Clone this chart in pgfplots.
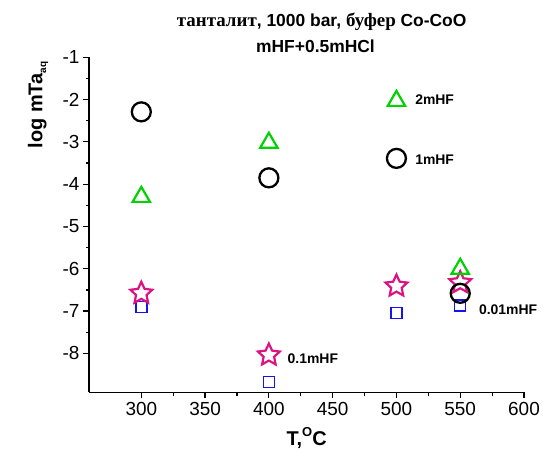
\documentclass[border=0pt]{standalone}
\usepackage{fontspec}
\setmainfont{Liberation Sans}
\newfontfamily\serifcyr{Liberation Serif}
\usepackage{pgfplots}
\pgfplotsset{compat=1.18}
\definecolor{mgreen}{RGB}{0,210,0}
\definecolor{mmag}{RGB}{220,20,130}
\definecolor{mblue}{RGB}{20,20,240}
\pgfdeclareplotmark{ostar}{%
 \pgfpathmoveto{\pgfpointpolar{90}{\pgfplotmarksize}}%
 \pgfpathlineto{\pgfpointpolar{126}{0.48\pgfplotmarksize}}%
 \pgfpathlineto{\pgfpointpolar{162}{\pgfplotmarksize}}%
 \pgfpathlineto{\pgfpointpolar{198}{0.48\pgfplotmarksize}}%
 \pgfpathlineto{\pgfpointpolar{234}{\pgfplotmarksize}}%
 \pgfpathlineto{\pgfpointpolar{270}{0.48\pgfplotmarksize}}%
 \pgfpathlineto{\pgfpointpolar{306}{\pgfplotmarksize}}%
 \pgfpathlineto{\pgfpointpolar{342}{0.48\pgfplotmarksize}}%
 \pgfpathlineto{\pgfpointpolar{18}{\pgfplotmarksize}}%
 \pgfpathlineto{\pgfpointpolar{54}{0.48\pgfplotmarksize}}%
 \pgfpathclose
 \pgfusepathqfillstroke}
\begin{document}
\begin{tikzpicture}[x=1bp,y=1bp]
\path[use as bounding box] (-89,-58.7) rectangle (455,392.3);
\begin{axis}[at={(0,0)}, anchor=south west, scale only axis, width=435bp, height=335bp,
 xmin=259, xmax=600, ymin=-8.92, ymax=-1,
 axis x line*=bottom, axis y line*=left, axis line style={line width=1.4bp,-},
 xtick={300,350,...,600}, ytick={-8,-7,...,-1}, minor x tick num=1, minor y tick num=1,
 tick align=outside, major tick length=6bp, minor tick length=3.5bp,
 tick style={line width=1.2bp,black},
 ticklabel style={font=\fontsize{19}{19}\selectfont},
 /pgf/number format/assume math mode=true,
 clip=false]
\addplot[only marks, mark=square, mark size=5.5bp, mblue, line width=1.4bp]
 coordinates {(300,-6.91) (400,-8.67) (500,-7.05) (550,-6.87)};
\addplot[only marks, mark=ostar, mark size=11.5bp, mmag, line width=2.2bp, mark options={fill=white, line join=miter}]
 coordinates {(300,-6.58) (400,-8.04) (500,-6.41) (550,-6.33)};
\addplot[only marks, mark=triangle, mark size=10bp, mgreen, line width=2.2bp]
 coordinates {(300,-4.30) (400,-3.02) (500,-2.03) (550,-6.00)};
\addplot[only marks, mark=o, mark size=9.5bp, black, line width=2.3bp, mark options={fill=white}]
 coordinates {(300,-2.29) (400,-3.85) (500,-3.39) (550,-6.58)};
\node[anchor=west, font=\fontsize{14}{14}\selectfont\bfseries] at (axis cs:512,-2.01) {2mHF};
\node[anchor=west, font=\fontsize{14}{14}\selectfont\bfseries] at (axis cs:512,-3.43) {1mHF};
\node[anchor=west, font=\fontsize{14}{14}\selectfont\bfseries] at (axis cs:412,-8.13) {0.1mHF};
\node[anchor=west, font=\fontsize{14}{14}\selectfont\bfseries] at (axis cs:562,-6.97) {0.01mHF};
\end{axis}
\node at (232.7,370.3) {\fontsize{17.5}{20}\selectfont\bfseries{\serifcyr\fontsize{19}{20}\selectfont танталит}, 1000 bar, {\serifcyr\fontsize{19}{20}\selectfont буфер} Co-CoO};
\node at (226.5,346.3) {\fontsize{17.5}{20}\selectfont\bfseries mHF+0.5mHCl};
\node[rotate=90] at (-51,287.3) {\fontsize{20}{20}\selectfont\bfseries log mTa\raisebox{-0.35ex}{\fontsize{10}{10}\selectfont aq}};
\node at (217.7,-45.7) {\fontsize{20}{20}\selectfont\bfseries T,\raisebox{0.8ex}{\fontsize{13}{13}\selectfont O}C};
\end{tikzpicture}
\end{document}
